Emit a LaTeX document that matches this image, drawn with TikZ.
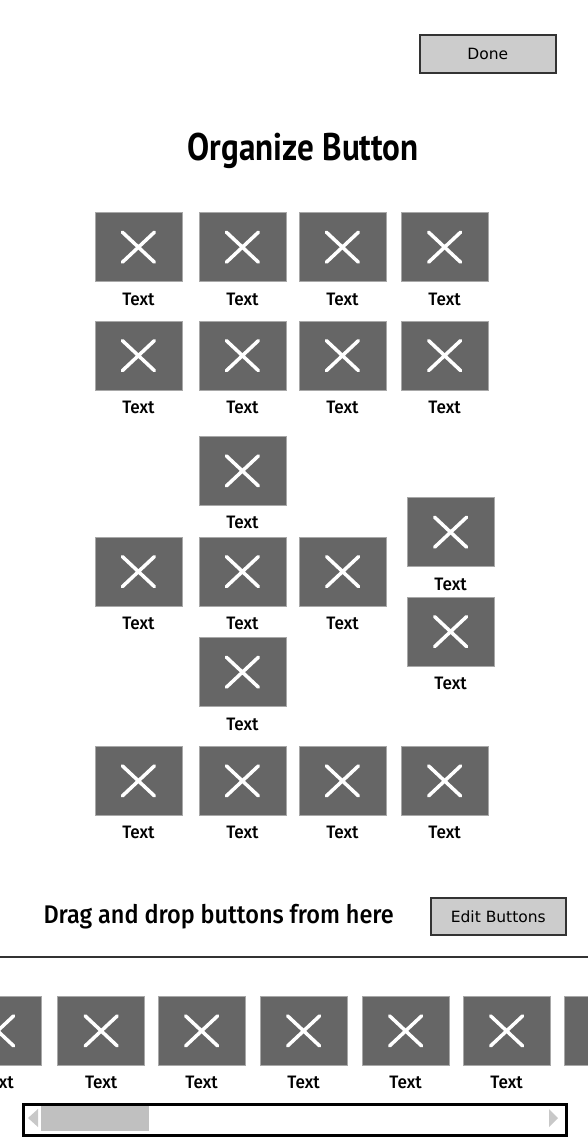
\documentclass[tikz,border=0pt]{standalone}
\usepackage{fontspec}
\setmainfont{Fira Sans}
\newfontfamily\titlefont[FakeStretch=0.86]{PT Sans Bold}
\newfontfamily\handfont[FakeStretch=0.92]{Fira Sans Medium}
\newfontfamily\lblfont[FakeStretch=0.95]{Fira Sans Medium}
\newfontfamily\btnfont{DejaVu Sans}
\definecolor{tilefill}{HTML}{666666}
\definecolor{tileedge}{HTML}{A8A8A8}
\definecolor{btnfill}{HTML}{CCCCCC}
\definecolor{btnedge}{HTML}{333333}
\definecolor{thumbgray}{HTML}{C0C0C0}
\definecolor{arrowgray}{HTML}{C8C8C8}
\tikzset{
  tile/.style={draw=tileedge, fill=tilefill, line width=0.8pt,
    minimum width=87pt, minimum height=69pt, inner sep=0pt, anchor=north west,
    path picture={\draw[white, line width=3.5pt, line cap=round]
      ([xshift=-16pt,yshift=-15pt]path picture bounding box.center) --
      ([xshift=16pt,yshift=15pt]path picture bounding box.center)
      ([xshift=-16pt,yshift=15pt]path picture bounding box.center) --
      ([xshift=16pt,yshift=-15pt]path picture bounding box.center);}},
  lbl/.style={font=\lblfont\fontsize{18}{18}\selectfont, inner sep=0pt, text=black},
  btn/.style={draw=btnedge, fill=btnfill, line width=1.4pt, inner sep=0pt,
    font=\btnfont\fontsize{15.5}{15.5}\selectfont}
}
\newcommand\mktile[3]{%
  \node[tile] (#1) at (#2,#3) {};
  \node[lbl] (#1l) at ([yshift=-17pt]#1.south) {Text};}
\begin{document}
\begin{tikzpicture}[x=1pt,y=-1pt]
\path[use as bounding box] (0,0) rectangle (588,1146);
\clip (0,0) rectangle (588,1146);
\fill[white] (0,0) rectangle (588,1146);
% Done button
\node[btn, minimum width=136pt, minimum height=38pt] (done) at (487.8,53.8) {Done};
% title
\node[font=\titlefont\fontsize{38.5}{38.5}\selectfont, inner sep=0pt, anchor=base] (title) at (303,160.7) {Organize Button};
% grid rows
\mktile{a1}{94.5}{212.3}
\mktile{a2}{198.5}{212.3}
\mktile{a3}{298.5}{212.3}
\mktile{a4}{400.7}{212.3}
\mktile{b1}{94.5}{320.7}
\mktile{b2}{198.5}{320.7}
\mktile{b3}{298.5}{320.7}
\mktile{b4}{400.7}{320.7}
% cross group
\mktile{c1}{198.5}{436}
\mktile{c2}{94.5}{536.7}
\mktile{c3}{198.5}{536.7}
\mktile{c4}{298.7}{536.7}
\mktile{c5}{198.5}{637.3}
\mktile{c6}{406.7}{497.3}
\mktile{c7}{406.7}{596.7}
% bottom row
\mktile{d1}{94.5}{746}
\mktile{d2}{198.5}{746}
\mktile{d3}{298.5}{746}
\mktile{d4}{400.7}{746}
% drag text and edit button
\node[font=\handfont\fontsize{25.5}{25.5}\selectfont, inner sep=0pt, anchor=base west] (drag) at (43.3,923) {Drag and drop buttons from here};
\node[btn, minimum width=135pt, minimum height=37pt] (edit) at (498.3,916.6) {Edit Buttons};
% separator
\coordinate (sepL) at (0,957);
\coordinate (sepR) at (588,957);
\draw[btnedge, line width=1.5pt] (sepL) -- (sepR);
% strip
\mktile{e0}{-46.3}{996}
\mktile{e1}{57.3}{996}
\mktile{e2}{157.7}{996}
\mktile{e3}{259.7}{996}
\mktile{e4}{361.7}{996}
\mktile{e5}{462.7}{996}
\node[tile] (e6) at (564.3,996) {};
% scrollbar
\node[draw=black, fill=white, line width=3pt, minimum width=543pt, minimum height=31pt, inner sep=0pt, anchor=north west] (scroll) at (22.2,1103.2) {};
\node[fill=thumbgray, minimum width=107.6pt, minimum height=25pt, inner sep=0pt, anchor=north west] (thumb) at (40.7,1105.7) {};
\fill[arrowgray] (28,1118) -- (38,1109) -- (38,1127) -- cycle;
\fill[arrowgray] (558,1118) -- (549,1109) -- (549,1127) -- cycle;
\end{tikzpicture}
\end{document}
